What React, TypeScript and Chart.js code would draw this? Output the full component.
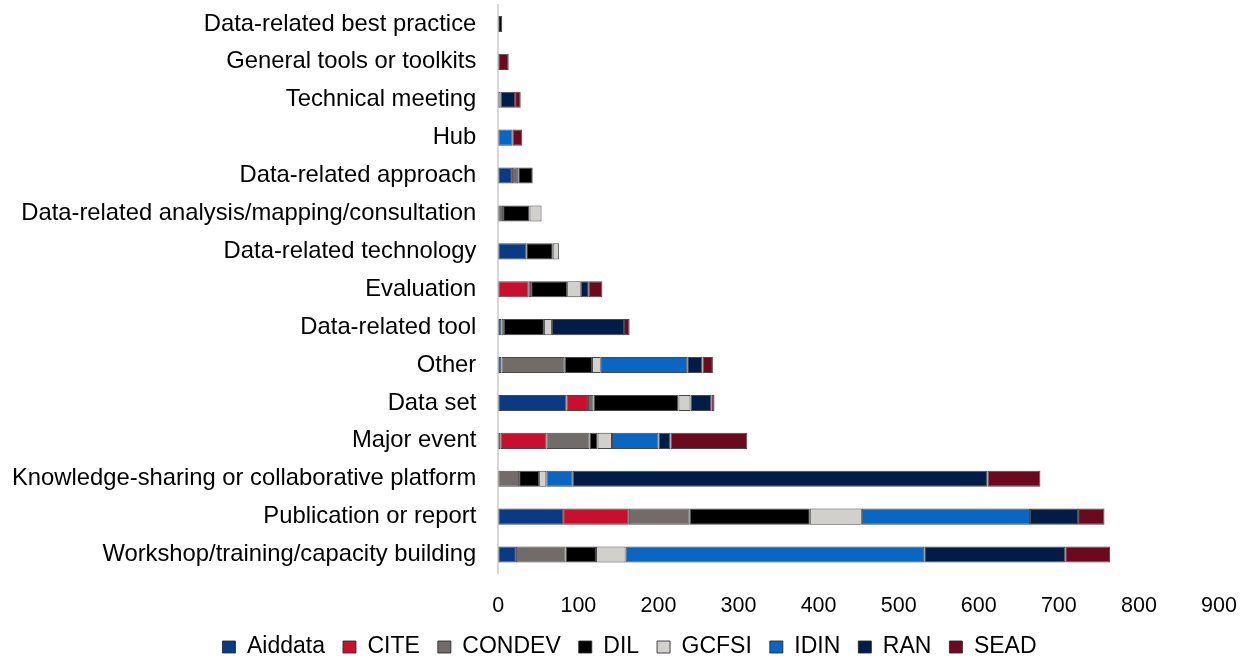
import React, { useEffect, useRef } from "react";
import { Chart, registerables } from "chart.js";

Chart.register(...registerables);

const categories = [
  "Data-related best practice",
  "General tools or toolkits",
  "Technical meeting",
  "Hub",
  "Data-related approach",
  "Data-related analysis/mapping/consultation",
  "Data-related technology",
  "Evaluation",
  "Data-related tool",
  "Other",
  "Data set",
  "Major event",
  "Knowledge-sharing or collaborative platform",
  "Publication or report",
  "Workshop/training/capacity building",
];

const aiddata = [0, 0, 0, 0, 17, 0, 35, 0, 4, 4, 85, 3, 0, 81, 22];
const cite = [0, 0, 0, 0, 0, 0, 0, 38, 0, 0, 27, 57, 0, 82, 0];
const condev = [0, 0, 0, 0, 8, 6, 0, 3, 3, 79, 7, 54, 26, 76, 62];
const dil = [5, 0, 0, 0, 18, 33, 33, 45, 50, 34, 106, 10, 25, 150, 38];
const gcfsi = [0, 0, 3, 0, 0, 15, 8, 17, 10, 11, 15, 18, 9, 65, 37];
const idin = [0, 0, 0, 18, 0, 0, 0, 0, 0, 108, 0, 58, 33, 210, 373];
const ran = [0, 0, 18, 0, 0, 0, 0, 10, 90, 19, 26, 15, 518, 60, 176];
const sead = [0, 13, 7, 12, 0, 0, 0, 17, 7, 13, 4, 96, 66, 33, 56];

const seriesNames = ["Aiddata", "CITE", "CONDEV", "DIL", "GCFSI", "IDIN", "RAN", "SEAD"];
const seriesValues = [aiddata, cite, condev, dil, gcfsi, idin, ran, sead];
const seriesColors = ["#0b3a85", "#c8102e", "#716b6a", "#000000", "#d2d0cd", "#0a66c2", "#011c47", "#6b0a1f"];

const xTickMax = 900;
const xTickStep = 100;

const FONT = "'Liberation Sans', Arial, sans-serif";

export default function App() {
  const ref = useRef<HTMLCanvasElement | null>(null);
  useEffect(() => {
    if (!ref.current) return;
    const chart = new Chart(ref.current, {
      type: "bar",
      data: {
        labels: categories,
        datasets: seriesNames.map((name, i) => ({
          label: name,
          data: seriesValues[i],
          backgroundColor: seriesColors[i],
          borderColor: "rgba(40,40,40,0.85)",
          borderWidth: 1,
          borderSkipped: false,
          barPercentage: 0.85,
          categoryPercentage: 0.5,
        })),
      },
      options: {
        indexAxis: "y",
        responsive: true,
        maintainAspectRatio: false,
        animation: false,
        layout: { padding: { top: 5, right: 0, bottom: 0, left: 12 } },
        scales: {
          x: {
            stacked: true,
            min: 0,
            max: xTickMax,
            grid: { display: false, drawTicks: false },
            border: { display: false },
            afterFit: (s: any) => {
              s.paddingRight = 28;
              s.paddingLeft = 0;
              s.height = 44;
            },
            ticks: {
              stepSize: xTickStep,
              color: "#000",
              padding: 19.5,
              font: { family: FONT, size: 21.5 },
            },
          },
          y: {
            stacked: true,
            grid: { display: false, drawTicks: false },
            border: { display: true, color: "#d9d9d9", width: 2 },
            afterFit: (s: any) => {
              s.paddingTop = 0;
              s.paddingBottom = 0;
              s.width = s.width - 22;
            },
            ticks: {
              color: "#000",
              padding: 22,
              autoSkip: false,
              font: { family: FONT, size: 23.8 },
            },
          },
        },
        plugins: {
          tooltip: { enabled: false },
          legend: {
            position: "bottom",
            maxHeight: 42.5,
            labels: {
              color: "#000",
              boxWidth: 13,
              boxHeight: 12,
              padding: 18,
              font: { family: FONT, size: 23 },
            },
          },
        },
      },
    });
    return () => chart.destroy();
  }, []);
  return (
    <div style={{ position: "absolute", left: 0, top: 0, width: 1247, height: 660, background: "#fff" }}>
      <canvas ref={ref} />
    </div>
  );
}
